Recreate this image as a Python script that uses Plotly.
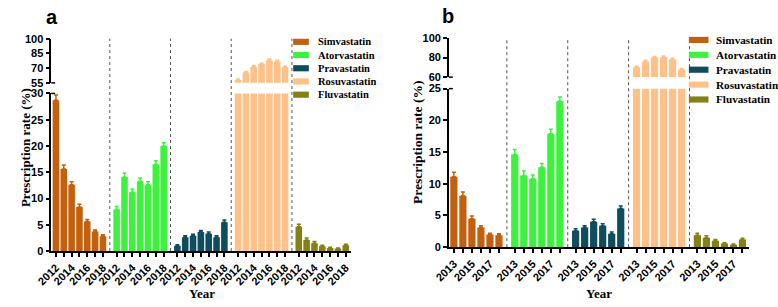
import plotly.graph_objects as go

# ---------------- data ----------------
drugs = ["Simvastatin", "Atorvastatin", "Pravastatin", "Rosuvastatin", "Fluvastatin"]
colors = ["#C2600E", "#3DF23D", "#0E4C5E", "#FFC188", "#838014"]

years_a = [2012, 2013, 2014, 2015, 2016, 2017, 2018]
sim_a = [28.7, 15.6, 12.6, 8.4, 5.6, 3.7, 2.8]
ator_a = [7.9, 14.1, 11.2, 13.3, 12.6, 16.5, 20.0]
prav_a = [1.0, 2.6, 2.9, 3.6, 3.3, 2.6, 5.5]
rosu_a = [58.0, 65.5, 71.5, 74.0, 78.0, 76.8, 70.8]
fluv_a = [4.6, 2.1, 1.5, 0.9, 0.6, 0.5, 1.1]
sim_a_err = [1.0, 0.8, 0.6, 0.5, 0.4, 0.3, 0.3]
ator_a_err = [0.6, 0.7, 0.6, 0.6, 0.6, 0.7, 0.6]
prav_a_err = [0.2, 0.3, 0.3, 0.3, 0.3, 0.3, 0.4]
rosu_a_err = [1.0, 1.2, 1.2, 1.2, 1.2, 1.2, 1.2]
fluv_a_err = [0.5, 0.4, 0.3, 0.2, 0.1, 0.1, 0.2]

years_b = [2013, 2014, 2015, 2016, 2017, 2018]
sim_b = [11.1, 8.1, 4.5, 3.1, 2.0, 1.9]
ator_b = [14.6, 11.3, 10.8, 12.6, 17.9, 23.0]
prav_b = [2.6, 3.1, 4.0, 3.4, 2.1, 6.1]
rosu_b = [70.0, 76.0, 80.0, 80.5, 78.0, 67.5]
fluv_b = [1.9, 1.5, 1.0, 0.6, 0.4, 1.2]
sim_b_err = [0.7, 0.6, 0.4, 0.3, 0.2, 0.2]
ator_b_err = [0.8, 0.7, 0.6, 0.6, 0.7, 0.7]
prav_b_err = [0.3, 0.3, 0.4, 0.3, 0.3, 0.4]
rosu_b_err = [1.2, 1.2, 1.2, 1.2, 1.2, 1.2]
fluv_b_err = [0.3, 0.3, 0.2, 0.1, 0.1, 0.2]

ticks_a_lower = [0, 5, 10, 15, 20, 25, 30]
ticks_a_upper = [55, 70, 85, 100]
ticks_b_lower = [0, 5, 10, 15, 20, 25]
ticks_b_upper = [60, 80, 100]

y_title = "Prescription rate (%)"
x_title = "Year"

# ---------------- layout helpers ----------------
W, H = 778, 307
def px(v):
    return v / W
def py(v):
    return 1 - v / H

GAP = 0.75
SANS = "Liberation Sans, Arial, sans-serif"
SERIF = "Liberation Serif, Times New Roman, serif"

panels = [
    dict(label="a", years=years_a,
         vals=[sim_a, ator_a, prav_a, rosu_a, fluv_a],
         errs=[sim_a_err, ator_a_err, prav_a_err, rosu_a_err, fluv_a_err],
         xdom=(36, 342), low=(255, 91), up=(80, 34),
         lrange=[0, 30], urange=[55, 100],
         lticks=ticks_a_lower, uticks=ticks_a_upper,
         xpad=(0.6, 0.66), bw=0.84,
         xa="x", ya_low="y", ya_up="y2",
         leg_x=(283, 299), leg_tx=307, leg_y0=37.3, leg_dy=13.75, leg_fs=10.5,
         ytitle_x=9, ytitle_y=147, ytitle_fs=13, xtitle=(190, 299), lab=(37, 11)),
    dict(label="b", years=years_b,
         vals=[sim_b, ator_b, prav_b, rosu_b, fluv_b],
         errs=[sim_b_err, ator_b_err, prav_b_err, rosu_b_err, fluv_b_err],
         xdom=(442, 748), low=(251, 86), up=(74, 33.3),
         lrange=[0, 25], urange=[60, 100],
         lticks=ticks_b_lower, uticks=ticks_b_upper,
         xpad=(0.55, 0.68), bw=0.8,
         xa="x2", ya_low="y3", ya_up="y4",
         leg_x=(687, 707), leg_tx=714, leg_y0=35.3, leg_dy=15.5, leg_fs=11.2,
         ytitle_x=410, ytitle_y=142, ytitle_fs=13.5, xtitle=(595, 299), lab=(441, 10)),
]

fig = go.Figure()
shapes = []
annotations = []
layout_axes = {}

def axname(ref):
    return ref[0] + "axis" + ref[1:]

for p in panels:
    n = len(p["years"])
    ngroups = len(drugs)
    all_x, all_text = [], []
    for g in range(ngroups):
        xs = [g * (n + GAP) + i for i in range(n)]
        all_x += xs
        all_text += [str(y) if i % 2 == 0 else "" for i, y in enumerate(p["years"])]
        common = dict(x=xs, y=p["vals"][g], width=p["bw"],
                      marker=dict(color=colors[g], line=dict(width=0)),
                      error_y=dict(type="data", array=p["errs"][g], symmetric=False,
                                   arrayminus=[0] * n, color=colors[g], thickness=1.5, width=2),
                      name=drugs[g], showlegend=False, hoverinfo="skip")
        fig.add_trace(go.Bar(xaxis=p["xa"], yaxis=p["ya_low"], **common))
        if max(p["vals"][g]) > p["urange"][0]:
            fig.add_trace(go.Bar(xaxis=p["xa"], yaxis=p["ya_up"], **common))
        if g > 0:
            xd = g * (n + GAP) - (1 + GAP) / 2
            shapes.append(dict(type="line", xref=p["xa"], yref="paper",
                               x0=xd, x1=xd, y0=py(p["low"][0]), y1=py(p["up"][1]),
                               line=dict(color="#555555", width=1, dash="dot")))
    xmax = (ngroups - 1) * (n + GAP) + (n - 1)
    layout_axes[axname(p["xa"])] = dict(
        domain=[px(p["xdom"][0]), px(p["xdom"][1])], anchor=p["ya_low"],
        range=[-p["xpad"][0], xmax + p["xpad"][1]],
        tickmode="array", tickvals=all_x, ticktext=all_text, tickangle=-45,
        ticks="outside", ticklen=4, tickwidth=1.5, tickcolor="black",
        showline=True, linecolor="black", linewidth=2, showgrid=False, zeroline=False,
        tickfont=dict(family=SANS, size=11, color="black", weight="bold"),
        fixedrange=True)
    ycommon = dict(anchor=p["xa"], ticks="outside", ticklen=4, tickwidth=1.5, tickcolor="black",
                   showline=True, linecolor="black", linewidth=1.5, showgrid=False,
                   zeroline=False, tickmode="array",
                   tickfont=dict(family=SANS, size=11, color="black", weight="bold"),
                   fixedrange=True)
    layout_axes[axname(p["ya_low"])] = dict(
        domain=[py(p["low"][0]), py(p["low"][1])], range=p["lrange"],
        tickvals=p["lticks"], **ycommon)
    layout_axes[axname(p["ya_up"])] = dict(
        domain=[py(p["up"][0]), py(p["up"][1])], range=p["urange"],
        tickvals=p["uticks"], **ycommon)
    # break caps on the axis line
    ax0 = px(p["xdom"][0])
    for ypix in (p["low"][1], p["up"][0]):
        shapes.append(dict(type="line", xref="paper", yref="paper",
                           x0=ax0, x1=ax0 + px(4), y0=py(ypix), y1=py(ypix),
                           line=dict(color="black", width=1.5)))
    # legend
    for g, d in enumerate(drugs):
        yc = p["leg_y0"] + g * p["leg_dy"]
        shapes.append(dict(type="rect", xref="paper", yref="paper",
                           x0=px(p["leg_x"][0]), x1=px(p["leg_x"][1]),
                           y0=py(yc + 3.2), y1=py(yc - 3.2),
                           fillcolor=colors[g], line=dict(width=0)))
        annotations.append(dict(text=d, xref="paper", yref="paper",
                                x=px(p["leg_tx"]), y=py(yc), xanchor="left", yanchor="middle",
                                showarrow=False, borderpad=0,
                                font=dict(family=SERIF, size=p["leg_fs"], color="black", weight="bold")))
    annotations.append(dict(text=y_title, textangle=-90, xref="paper", yref="paper",
                            x=px(p["ytitle_x"]), y=py(p["ytitle_y"]), xanchor="center",
                            yanchor="middle", showarrow=False,
                            font=dict(family=SERIF, size=p["ytitle_fs"], color="black", weight="bold")))
    annotations.append(dict(text=x_title, xref="paper", yref="paper",
                            x=px(p["xtitle"][0]), y=py(p["xtitle"][1]), xanchor="center",
                            yanchor="middle", showarrow=False,
                            font=dict(family=SERIF, size=13, color="black", weight="bold")))
    annotations.append(dict(text=p["label"], xref="paper", yref="paper",
                            x=px(p["lab"][0]), y=py(p["lab"][1]), xanchor="center",
                            yanchor="middle", showarrow=False,
                            font=dict(family=SANS, size=20, color="black", weight="bold")))

fig.update_layout(
    width=W, height=H, margin=dict(l=0, r=0, t=0, b=0),
    paper_bgcolor="white", plot_bgcolor="white",
    showlegend=False, barmode="overlay",
    shapes=shapes, annotations=annotations,
    **layout_axes)

fig.write_html("out.html", config={"displayModeBar": False},
               post_script="document.body.style.margin='0';document.body.style.overflow='hidden';")
